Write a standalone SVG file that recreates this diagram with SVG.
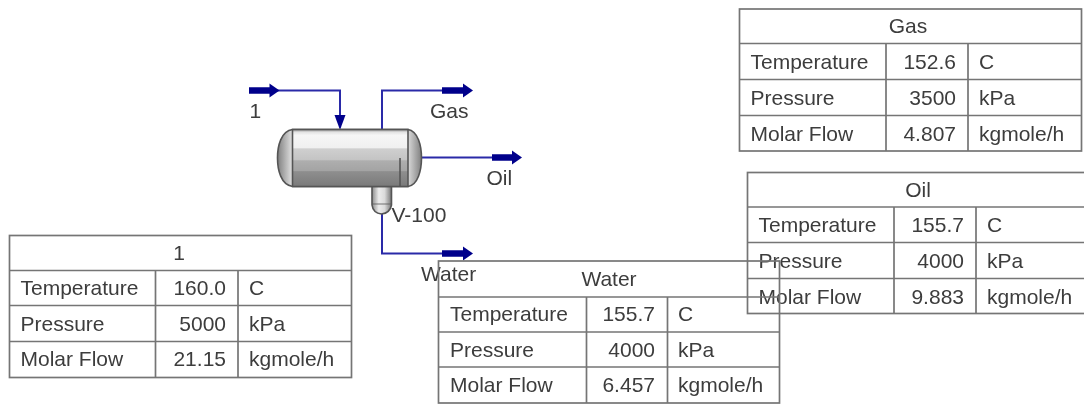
<svg xmlns="http://www.w3.org/2000/svg" width="1084" height="405" viewBox="0 0 1084 405">
<style>
text{font-family:"Liberation Sans",Arial,sans-serif;font-size:21px;fill:#3c3c3c}
.m{text-anchor:middle}.r{text-anchor:end}
.t path,.t rect{fill:none;stroke:#757575;stroke-width:1.7}
.s{fill:none;stroke:#2a2aa8;stroke-width:2}
.k{fill:none;stroke:#00008b;stroke-width:6.500}
.h{fill:#00008b}
.o{stroke:#555;stroke-width:1.6}
</style>
<defs>
<filter id="b" filterUnits="userSpaceOnUse" x="0" y="0" width="1084" height="405"><feGaussianBlur stdDeviation="0.7"/></filter>
<linearGradient id="v" x1="0" y1="0" x2="0" y2="1">
<stop offset="0" stop-color="#9a9a9a"/><stop offset=".05" stop-color="#e4e4e4"/><stop offset=".1" stop-color="#f6f6f6"/><stop offset=".32" stop-color="#f0f0f0"/><stop offset=".34" stop-color="#cfcfcf"/><stop offset=".53" stop-color="#c4c4c4"/><stop offset=".55" stop-color="#aeaeae"/><stop offset=".72" stop-color="#a4a4a4"/><stop offset=".74" stop-color="#8e8e8e"/><stop offset="1" stop-color="#7a7a7a"/>
</linearGradient>
<linearGradient id="e" gradientUnits="userSpaceOnUse" x1="277" y1="0" x2="422" y2="0">
<stop offset="0" stop-color="#7c7c7c"/><stop offset=".1" stop-color="#dcdcdc"/><stop offset=".9" stop-color="#dcdcdc"/><stop offset="1" stop-color="#7c7c7c"/>
</linearGradient>
<linearGradient id="w" x1="0" y1="0" x2="1" y2="0">
<stop offset="0" stop-color="#8c8c8c"/><stop offset=".35" stop-color="#ececec"/><stop offset=".65" stop-color="#dadada"/><stop offset="1" stop-color="#777"/>
</linearGradient>
</defs>
<g filter="url(#b)">
<g id="connectors">
<path class="s" d="M270 90.500H340V116"/><path class="k" d="M249 90.500H271"/><path class="h" d="M269.500 83.500L279.500 90.500L269.500 97.500Z"/><path class="h" d="M334.500 115H345.500L340 130Z"/>
<path class="s" d="M382 129V90.500H442"/><path class="k" d="M442 90.500H465"/><path class="h" d="M463 83.500L473 90.500L463 97.500Z"/>
<path class="s" d="M421 157.500H492"/><path class="k" d="M492 157.500H514"/><path class="h" d="M512 150.500L522 157.500L512 164.500Z"/>
<path class="s" d="M382 212V253.500H442"/><path class="k" d="M442 253.500H465"/><path class="h" d="M463 246.500L473 253.500L463 260.500Z"/>
</g>
<g id="V-100">
<path d="M372 186V205Q373 213 381.500 214Q390 213 391.500 205V186Z" fill="url(#w)" class="o"/>
<path d="M372 204H391.500" class="o" stroke-opacity=".5" fill="none"/>
<path d="M292.500 129.500C281 131 277.500 146 277.500 158C277.500 170 281 185 292.500 186.500H408C418 185 421.500 170 421.500 158C421.500 146 418 131 408 129.500Z" fill="url(#e)" class="o"/>
<rect x="292.500" y="129.500" width="115.500" height="57" fill="url(#v)" class="o"/>
<path d="M400 158V186" class="o" fill="none"/>
<text x="391.500" y="221.500">V-100</text>
</g>
<g id="label-1"><text x="249.500" y="118">1</text></g>
<g id="label-gas"><text x="430" y="117.500">Gas</text></g>
<g id="label-oil"><text x="486.500" y="184.500">Oil</text></g>
<g id="label-water"><text x="421" y="281">Water</text></g>
<g id="table-gas" class="t">
<rect x="739.500" y="9" width="342" height="142"/>
<path d="M739.500 43.500H1081.500M739.500 79.500H1081.500M739.500 115.500H1081.500M886 43.500V151M968 43.500V151"/>
<text class="m" x="908" y="33">Gas</text>
<text x="750.500" y="69">Temperature</text><text class="r" x="956" y="69">152.6</text><text x="979" y="69">C</text>
<text x="750.500" y="105">Pressure</text><text class="r" x="956" y="105">3500</text><text x="979" y="105">kPa</text>
<text x="750.500" y="140.500">Molar Flow</text><text class="r" x="956" y="140.500">4.807</text><text x="979" y="140.500">kgmole/h</text>
</g>
<g id="table-1" class="t">
<rect x="9.500" y="235.500" width="342" height="142"/>
<path d="M9.500 270.500H351.500M9.500 305.500H351.500M9.500 341.500H351.500M155.500 270.500V377.500M238 270.500V377.500"/>
<text class="m" x="179" y="260">1</text>
<text x="20.500" y="295">Temperature</text><text class="r" x="226" y="295">160.0</text><text x="249" y="295">C</text>
<text x="20.500" y="330.500">Pressure</text><text class="r" x="226" y="330.500">5000</text><text x="249" y="330.500">kPa</text>
<text x="20.500" y="366">Molar Flow</text><text class="r" x="226" y="366">21.15</text><text x="249" y="366">kgmole/h</text>
</g>
<g id="table-oil" class="t">
<rect x="747.500" y="172.500" width="342" height="141"/>
<path d="M747.500 207H1090M747.500 242.500H1090M747.500 278.500H1090M894 207V313.500M976 207V313.500"/>
<text class="m" x="918" y="197">Oil</text>
<text x="758.500" y="232">Temperature</text><text class="r" x="964" y="232">155.7</text><text x="987" y="232">C</text>
<text x="758.500" y="268">Pressure</text><text class="r" x="964" y="268">4000</text><text x="987" y="268">kPa</text>
<text x="758.500" y="303.500">Molar Flow</text><text class="r" x="964" y="303.500">9.883</text><text x="987" y="303.500">kgmole/h</text>
</g>
<g id="table-water" class="t">
<rect x="438.500" y="261" width="341" height="142"/>
<path d="M438.500 297H779.500M438.500 332H779.500M438.500 367H779.500M586.500 297V403M667.500 297V403"/>
<text class="m" x="609" y="286">Water</text>
<text x="450" y="321">Temperature</text><text class="r" x="655" y="321">155.7</text><text x="678" y="321">C</text>
<text x="450" y="356.500">Pressure</text><text class="r" x="655" y="356.500">4000</text><text x="678" y="356.500">kPa</text>
<text x="450" y="392">Molar Flow</text><text class="r" x="655" y="392">6.457</text><text x="678" y="392">kgmole/h</text>
</g>
</g>
</svg>
